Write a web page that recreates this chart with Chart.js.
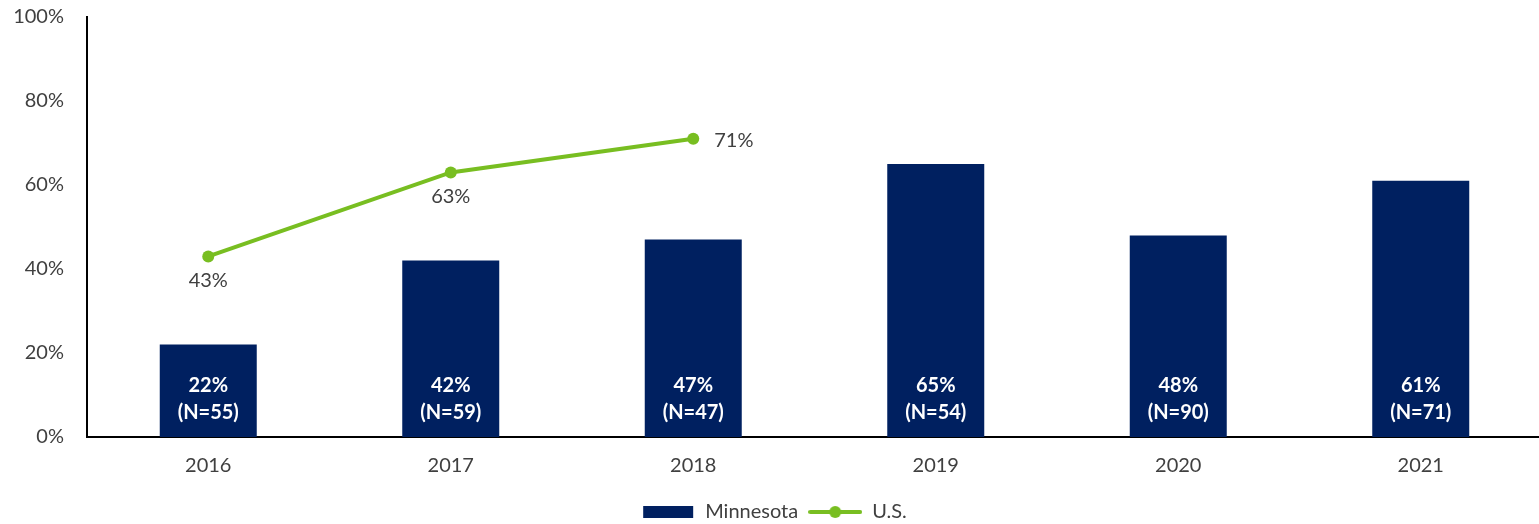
<!DOCTYPE html>
<html>
<head>
<meta charset="utf-8">
<script src="https://cdn.jsdelivr.net/npm/chart.js@4"></script>
<style>
  html, body { margin: 0; padding: 0; background: #fff; overflow: hidden; }
  #wrap { width: 1548px; height: 524px; }
</style>
</head>
<body>
<div id="wrap"><canvas id="c" width="1548" height="524"></canvas></div>
<script>
const categories = ['2016', '2017', '2018', '2019', '2020', '2021'];
const minnesotaValues = [22, 42, 47, 65, 48, 61];
const minnesotaN = [55, 59, 47, 54, 90, 71];
const usValues = [43, 63, 71, null, null, null];
const yTicks = [0, 20, 40, 60, 80, 100];

const NAVY = '#002060';
const GREEN = '#78BE21';
const FONT = 'Lato, "Open Sans", sans-serif';

function makeIcon(kind) {
  const cv = document.createElement('canvas');
  cv.width = 54; cv.height = 14;
  const g = cv.getContext('2d');
  if (kind === 'bar') {
    g.fillStyle = NAVY;
    g.fillRect(2, 1, 50, 12);
  } else {
    g.strokeStyle = GREEN; g.lineWidth = 4; g.lineCap = 'round';
    g.beginPath(); g.moveTo(2, 7); g.lineTo(52, 7); g.stroke();
    g.fillStyle = GREEN;
    g.beginPath(); g.arc(27, 7, 6, 0, Math.PI * 2); g.fill();
  }
  return cv;
}
const icons = [makeIcon('bar'), makeIcon('line')];

const labelPlugin = {
  id: 'valueLabels',
  afterDatasetsDraw(chart) {
    const ctx = chart.ctx;
    ctx.save();
    const barMeta = chart.getDatasetMeta(0);
    ctx.fillStyle = '#ffffff';
    ctx.font = 'bold 20px ' + FONT;
    ctx.textAlign = 'center';
    ctx.textBaseline = 'middle';
    barMeta.data.forEach((el, i) => {
      ctx.fillText(minnesotaValues[i] + '%', el.x, el.base - 51);
      ctx.fillText('(N=' + minnesotaN[i] + ')', el.x, el.base - 24);
    });
    const lineMeta = chart.getDatasetMeta(1);
    ctx.fillStyle = '#404040';
    ctx.font = '20px ' + FONT;
    lineMeta.data.forEach((el, i) => {
      const v = usValues[i];
      if (v === null || el.skip) return;
      if (i === 2) {
        ctx.textAlign = 'left';
        ctx.fillText(v + '%', el.x + 21, el.y + 2);
      } else {
        ctx.textAlign = 'center';
        ctx.fillText(v + '%', el.x, el.y + 24);
      }
    });
    ctx.restore();
  }
};

new Chart(document.getElementById('c'), {
  type: 'bar',
  data: {
    labels: categories,
    datasets: [
      {
        type: 'bar',
        label: 'Minnesota',
        data: minnesotaValues,
        backgroundColor: NAVY,
        barPercentage: 0.4,
        categoryPercentage: 1.0,
        order: 1
      },
      {
        type: 'line',
        label: 'U.S.',
        data: usValues,
        borderColor: GREEN,
        backgroundColor: GREEN,
        borderWidth: 4,
        pointRadius: 6,
        pointBackgroundColor: GREEN,
        pointBorderColor: GREEN,
        pointBorderWidth: 0,
        tension: 0,
        spanGaps: false,
        order: 0
      }
    ]
  },
  options: {
    responsive: false,
    animation: false,
    devicePixelRatio: 1,
    layout: { padding: { top: 17, right: 0, left: 0, bottom: -8 } },
    plugins: {
      tooltip: { enabled: false },
      legend: {
        position: 'bottom',
        labels: {
          usePointStyle: true,
          pointStyleWidth: 54,
          boxHeight: 14,
          padding: 10,
          color: '#404040',
          font: { family: FONT, size: 20 },
          sort: (a, b) => a.datasetIndex - b.datasetIndex,
          generateLabels(chart) {
            const items = Chart.defaults.plugins.legend.labels.generateLabels(chart);
            items.forEach(it => { it.pointStyle = icons[it.datasetIndex]; });
            return items;
          }
        }
      }
    },
    scales: {
      x: {
        grid: { display: false },
        border: { display: true, color: '#000', width: 2 },
        ticks: { color: '#404040', font: { family: FONT, size: 20 }, padding: 9 },
        afterFit(s) { s.height = 55; s.paddingLeft = 0; s.paddingRight = 0; }
      },
      y: {
        min: 0,
        max: 100,
        afterBuildTicks(s) { s.ticks = yTicks.map(v => ({ value: v })); },
        grid: { display: false },
        border: { display: true, color: '#000', width: 2 },
        ticks: {
          color: '#404040',
          font: { family: FONT, size: 20 },
          padding: 15,
          callback: v => v + '%'
        },
        afterFit(s) { s.width = 87; s.paddingTop = 0; s.paddingBottom = 0; }
      }
    }
  },
  plugins: [labelPlugin]
});
</script>
</body>
</html>
